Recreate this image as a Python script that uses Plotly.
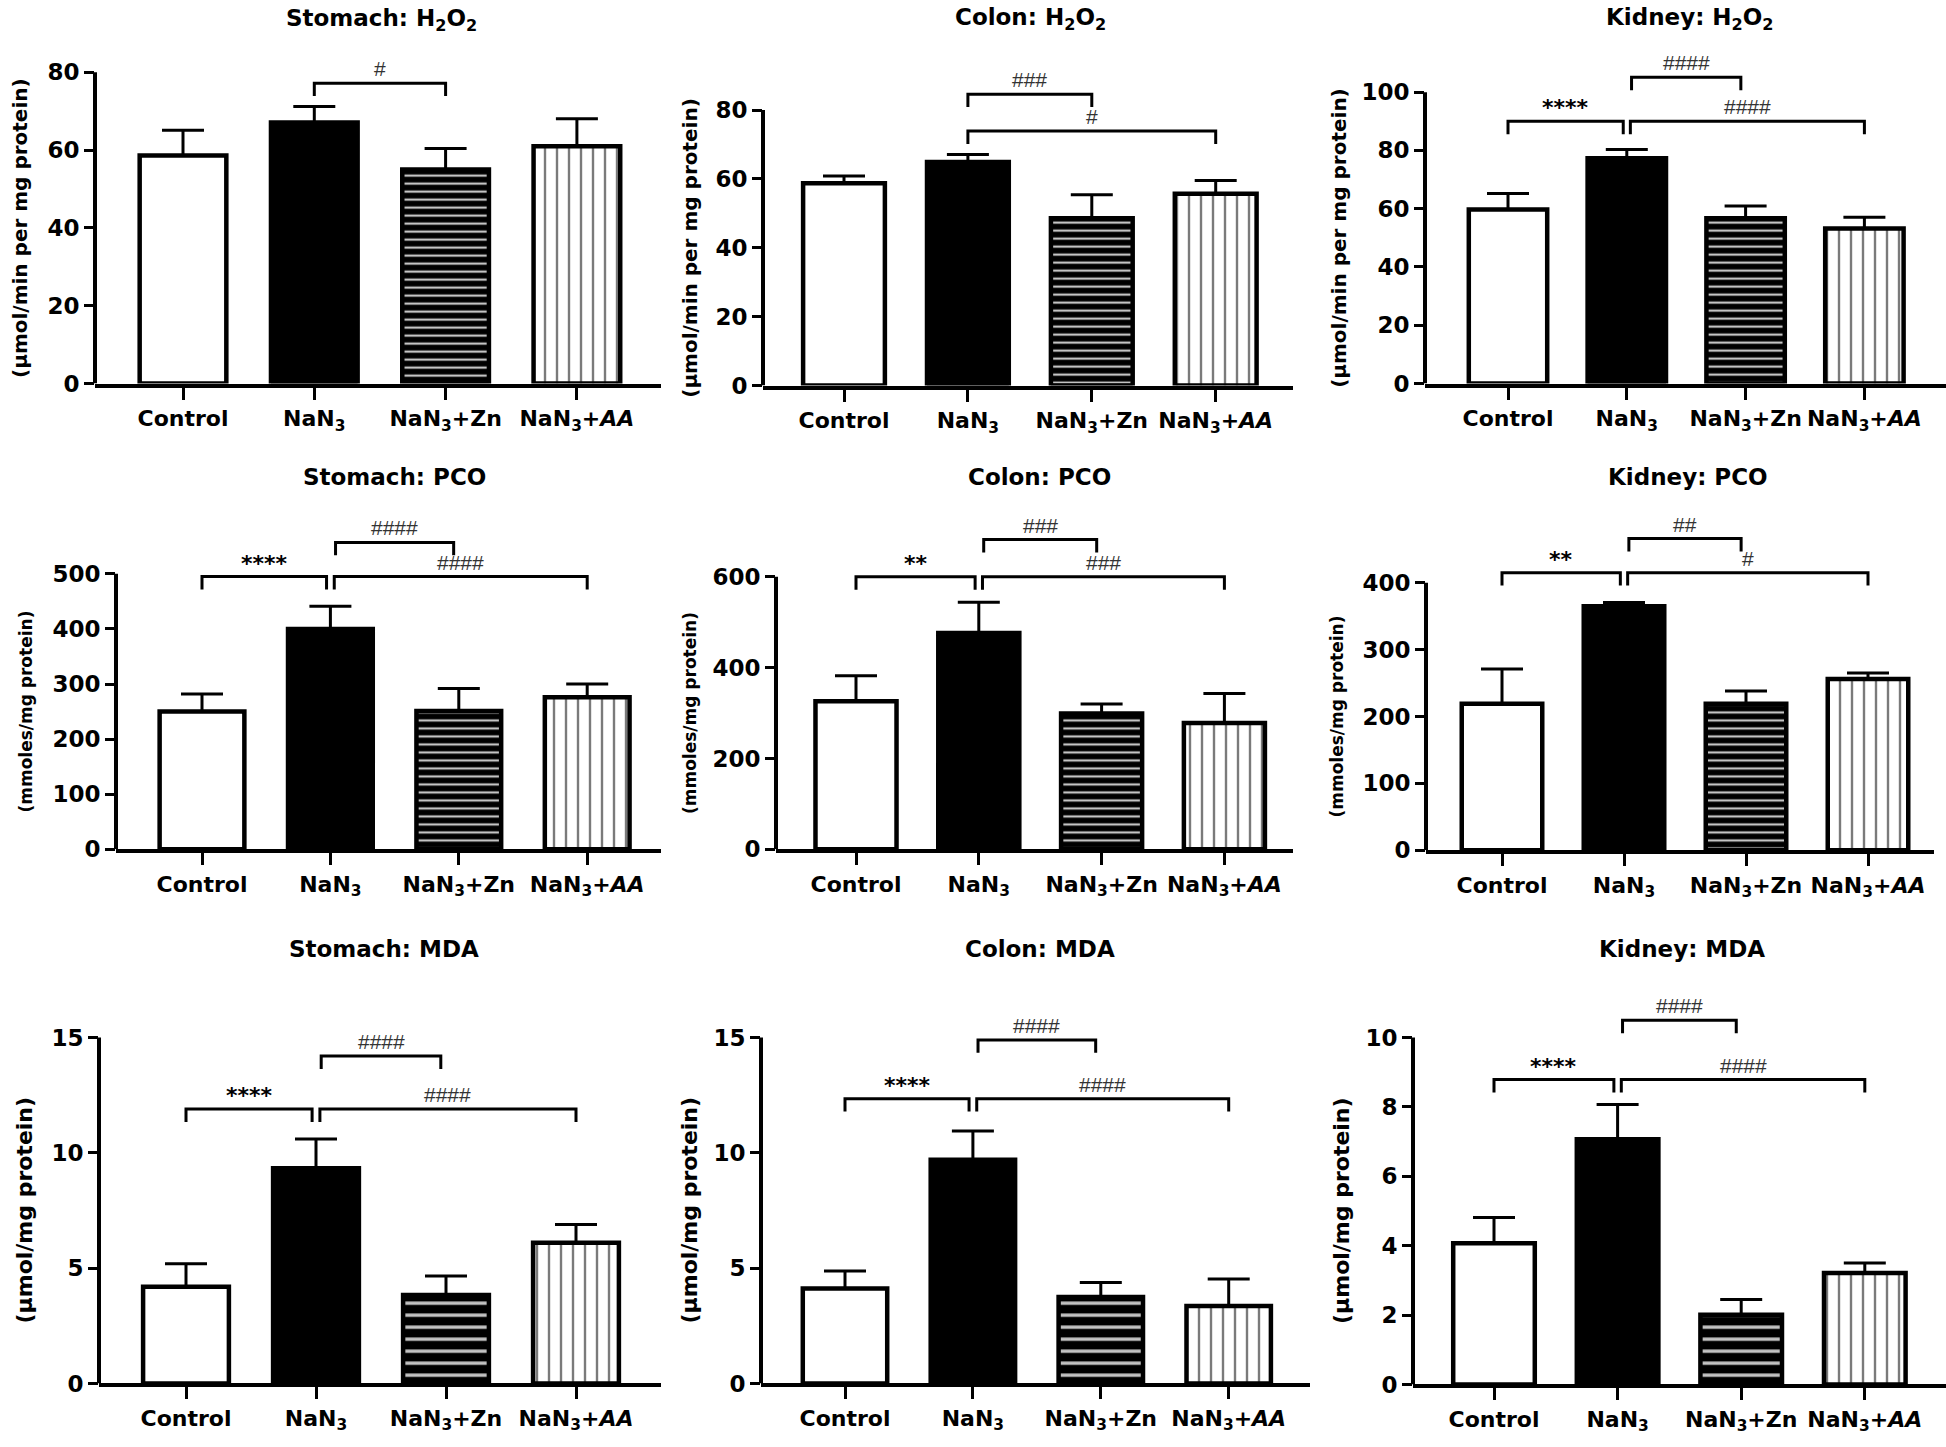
import plotly.graph_objects as go

W, H = 1946, 1447

# ---------------- data ----------------
groups = ["Control", "NaN<sub>3</sub>", "NaN<sub>3</sub>+Zn", "NaN<sub>3</sub>+<i>AA</i>"]

titles = ["Stomach: H<sub>2</sub>O<sub>2</sub>", "Colon: H<sub>2</sub>O<sub>2</sub>", "Kidney: H<sub>2</sub>O<sub>2</sub>",
          "Stomach: PCO", "Colon: PCO", "Kidney: PCO",
          "Stomach: MDA", "Colon: MDA", "Kidney: MDA"]

y_titles = ["(μmol/min per mg protein)"] * 3 + ["(mmoles/mg protein)"] * 3 + ["(μmol/mg protein)"] * 3

stomach_h2o2_mean = [58.6, 67.1, 55.0, 61.0]
stomach_h2o2_sem = [6.5, 4.1, 5.4, 7.1]
colon_h2o2_mean = [58.7, 64.9, 48.6, 55.7]
colon_h2o2_sem = [2.1, 2.2, 6.8, 3.8]
kidney_h2o2_mean = [59.7, 77.3, 56.7, 53.2]
kidney_h2o2_sem = [5.5, 3.0, 4.2, 3.9]

stomach_pco_mean = [250, 400, 251, 276]
stomach_pco_sem = [32, 41, 41, 24]
colon_pco_mean = [326, 476, 299, 278]
colon_pco_sem = [56, 68, 21, 65]
kidney_pco_mean = [219, 365, 219, 256]
kidney_pco_sem = [52, 5.5, 19, 9]

stomach_mda_mean = [4.19, 9.33, 3.84, 6.10]
stomach_mda_sem = [1.00, 1.27, 0.82, 0.79]
colon_mda_mean = [4.12, 9.70, 3.75, 3.36]
colon_mda_sem = [0.76, 1.25, 0.63, 1.17]
kidney_mda_mean = [4.07, 7.07, 2.01, 3.21]
kidney_mda_sem = [0.74, 1.00, 0.44, 0.29]

# significance comparisons (group a, group b, label)
stomach_h2o2_sig = [(1, 2, "#")]
colon_h2o2_sig = [(1, 2, "###"), (1, 3, "#")]
kidney_h2o2_sig = [(0, 1, "****"), (1, 2, "####"), (1, 3, "####")]
stomach_pco_sig = [(0, 1, "****"), (1, 2, "####"), (1, 3, "####")]
colon_pco_sig = [(0, 1, "**"), (1, 2, "###"), (1, 3, "###")]
kidney_pco_sig = [(0, 1, "**"), (1, 2, "##"), (1, 3, "#")]
stomach_mda_sig = [(0, 1, "****"), (1, 2, "####"), (1, 3, "####")]
colon_mda_sig = [(0, 1, "****"), (1, 2, "####"), (1, 3, "####")]
kidney_mda_sig = [(0, 1, "****"), (1, 2, "####"), (1, 3, "####")]

y_top = [80, 80, 100, 500, 600, 400, 15, 15, 10]
y_step = [20, 20, 20, 100, 200, 100, 5, 5, 2]

means = [stomach_h2o2_mean, colon_h2o2_mean, kidney_h2o2_mean,
         stomach_pco_mean, colon_pco_mean, kidney_pco_mean,
         stomach_mda_mean, colon_mda_mean, kidney_mda_mean]
sems = [stomach_h2o2_sem, colon_h2o2_sem, kidney_h2o2_sem,
        stomach_pco_sem, colon_pco_sem, kidney_pco_sem,
        stomach_mda_sem, colon_mda_sem, kidney_mda_sem]
sigs = [stomach_h2o2_sig, colon_h2o2_sig, kidney_h2o2_sig,
        stomach_pco_sig, colon_pco_sig, kidney_pco_sig,
        stomach_mda_sig, colon_mda_sig, kidney_mda_sig]

# ---------------- layout (page pixel geometry) ----------------
panels = [
    dict(ax=95, end=661, c0=183, sp=131.3, y0=387, yt=73, tx=381, ty=20, ylx=20, hs=8, yls=20),
    dict(ax=763, end=1293, c0=844, sp=123.9, y0=389, yt=111, tx=1030, ty=19, ylx=690, hs=8, yls=20),
    dict(ax=1425, end=1946, c0=1508, sp=118.8, y0=387, yt=93, tx=1690, ty=19, ylx=1339, hs=8, yls=20),
    dict(ax=116, end=661, c0=202, sp=128.4, y0=857, yt=579, tx=394, ty=481, ylx=26, hs=8, yls=17),
    dict(ax=776, end=1293, c0=856, sp=122.8, y0=857, yt=582, tx=1039, ty=481, ylx=690, hs=8, yls=17),
    dict(ax=1426, end=1934, c0=1502, sp=122.0, y0=858, yt=588, tx=1688, ty=481, ylx=1337, hs=8, yls=17),
    dict(ax=99, end=661, c0=186, sp=130.0, y0=1396, yt=1047, tx=384, ty=958, ylx=25, hs=12, yls=22),
    dict(ax=761, end=1310, c0=845, sp=127.9, y0=1396, yt=1047, tx=1040, ty=958, ylx=690, hs=12, yls=22),
    dict(ax=1413, end=1946, c0=1494, sp=123.6, y0=1397, yt=1047, tx=1682, ty=958, ylx=1341, hs=12, yls=22),
]

bracket_h = [
    [77.2],
    [84.6, 73.9],
    [90.0, 105.1, 90.0],
    [495, 557, 495],
    [600, 682, 600],
    [415, 466, 415],
    [11.9, 14.2, 11.9],
    [12.35, 14.9, 12.35],
    [8.79, 10.5, 8.79],
]
bracket_inset = [
    [(0, 0)],
    [(0, 0), (0, 0)],
] + [[(0, -0.03), (0.04, -0.04), (0.03, 0)]] * 7

bar_fill = ["white", "black", "black", "white"]
stripe_shape = ["", "", "-", "|"]
stripe_color = ["black", "black", "#c4c4c4", "#7a7a7a"]
stripe_solidity = [0.2, 0.2, 0.28, 0.2]

FONT = "DejaVu Sans"
HASH_FONT = "Liberation Sans"


def px_x(v):
    return v / W


def px_y(v):
    return 1 - v / H


fig = go.Figure()
annotations = []
shapes = []
layout = dict(width=W, height=H, margin=dict(l=0, r=0, t=0, b=0), barmode="overlay",
              paper_bgcolor="white", plot_bgcolor="white", showlegend=False)

for i, p in enumerate(panels):
    n = i + 1
    xa = "x" if n == 1 else f"x{n}"
    ya = "y" if n == 1 else f"y{n}"
    xk = "xaxis" if n == 1 else f"xaxis{n}"
    yk = "yaxis" if n == 1 else f"yaxis{n}"
    top = y_top[i]
    dtop = p["ty"] + 24
    ymax = top * (p["y0"] - dtop) / (p["y0"] - p["yt"])
    px_per_unit = (p["y0"] - p["yt"]) / top
    r0 = (p["ax"] - p["c0"]) / p["sp"]
    r1 = (p["end"] - p["c0"]) / p["sp"]

    layout[xk] = dict(domain=[px_x(p["ax"]), min(1.0, px_x(p["end"]))], range=[r0, r1], anchor=ya,
                      tickvals=[0, 1, 2, 3], ticktext=groups, ticks="outside", ticklen=12,
                      tickwidth=3, tickcolor="black", showline=True, linewidth=4,
                      linecolor="black", showgrid=False, zeroline=False,
                      tickfont=dict(family=FONT, size=22, color="black", weight="bold"))
    tv = list(range(0, top + 1, y_step[i]))
    layout[yk] = dict(domain=[px_y(p["y0"]), px_y(dtop)], range=[0, ymax], anchor=xa,
                      tickvals=tv, ticks="outside", ticklen=10, tickwidth=3, tickcolor="black",
                      showline=False, showgrid=False, zeroline=False,
                      tickfont=dict(family=FONT, size=23, color="black", weight="bold"))
    shapes.append(dict(type="line", xref=f"{xa} domain", yref=ya, x0=0, x1=0, y0=0, y1=top,
                       line=dict(color="black", width=4)))

    for g in range(4):
        pat = dict(shape=stripe_shape[g], fgcolor=stripe_color[g], bgcolor=bar_fill[g],
                   size=p["hs"] if g == 2 else 12, solidity=stripe_solidity[g],
                   fillmode="replace")
        fig.add_trace(go.Bar(
            x=[g], y=[means[i][g]], width=0.66, xaxis=xa, yaxis=ya,
            marker=dict(color=bar_fill[g], line=dict(color="black", width=4.5), pattern=pat),
            error_y=dict(type="data", symmetric=False, array=[sems[i][g]], arrayminus=[0],
                         color="black", thickness=3, width=21),
            hoverinfo="skip"))

    depth = 13 / px_per_unit
    for (a, b, lab), h, (ia, ib) in zip(sigs[i], bracket_h[i], bracket_inset[i]):
        xa0, xb0 = a + ia, b + ib
        fig.add_trace(go.Scatter(x=[xa0, xa0, xb0, xb0], y=[h - depth, h, h, h - depth],
                                 mode="lines", line=dict(color="black", width=3),
                                 xaxis=xa, yaxis=ya, hoverinfo="skip"))
        is_star = lab.startswith("*")
        annotations.append(dict(
            x=(xa0 + xb0) / 2, y=h, xref=xa, yref=ya, text=lab, showarrow=False,
            xanchor="center", yanchor="bottom", yshift=-1 if is_star else 1,
            font=dict(family=FONT if is_star else HASH_FONT, size=22 if is_star else 21,
                      color="black" if is_star else "#333333",
                      weight="bold" if is_star else "normal")))

    annotations.append(dict(x=px_x(p["tx"]), y=px_y(p["ty"]), xref="paper", yref="paper",
                            text=titles[i], showarrow=False, xanchor="center", yanchor="middle",
                            font=dict(family=FONT, size=23, color="black", weight="bold")))
    annotations.append(dict(x=px_x(p["ylx"]), y=px_y((p["y0"] + p["yt"]) / 2),
                            xref="paper", yref="paper", text=y_titles[i], textangle=-90,
                            showarrow=False, xanchor="center", yanchor="middle",
                            font=dict(family=FONT, size=p["yls"], color="black", weight="bold")))

layout["annotations"] = annotations
layout["shapes"] = shapes
fig.update_layout(**layout)
fig.write_html("out.html", config={"displayModeBar": False},
               post_script="document.body.style.margin='0px';document.body.style.overflow='hidden';")
